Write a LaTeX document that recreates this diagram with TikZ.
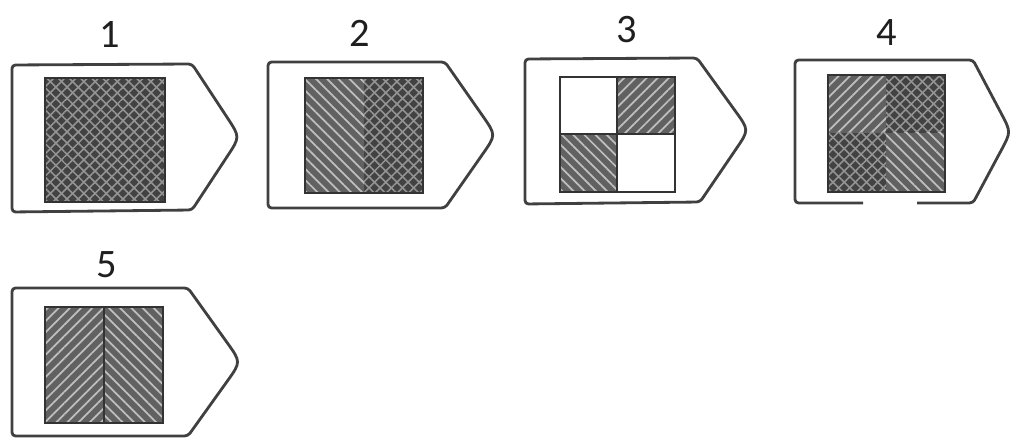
\documentclass[tikz,border=0pt]{standalone}
\usepackage{fontspec}
\setmainfont{Carlito}
\usetikzlibrary{calc,patterns.meta}

\begin{document}
\begin{tikzpicture}[x=0.02cm,y=-0.02cm,font=\fontsize{23}{26}\selectfont]
\tikzstyle{lbl}=[inner sep=0pt,text=black!88]
\tikzstyle{tagline}=[draw=black!75,line width=1.6pt,rounded corners=2pt]
\tikzstyle{sq}=[draw=black!80,line width=0.6pt]
\tikzstyle{cross}=[fill=black!74,postaction={pattern={Lines[angle=45,distance=4.5pt,line width=0.9pt]},pattern color=black!42},postaction={pattern={Lines[angle=-45,distance=4.5pt,line width=0.9pt]},pattern color=black!42}]
\tikzstyle{hatchr}=[fill=black!62,postaction={pattern={Lines[angle=45,distance=4.5pt,line width=1pt]},pattern color=black!25}]
\tikzstyle{hatchl}=[fill=black!62,postaction={pattern={Lines[angle=-45,distance=4.5pt,line width=1pt]},pattern color=black!25}]
\useasboundingbox (0,0) rectangle (1010,445);
% labels
\node[lbl] (n1) at (110,35) {1};
\node[lbl] (n2) at (360,33) {2};
\node[lbl] (n3) at (627,30) {3};
\node[lbl] (n4) at (887,33) {4};
\node[lbl] (n5) at (107,265) {5};
% tag 1
\draw[tagline] (12,65) -- (192,64) -- ($(192,64)!.7!(240,137)$) .. controls (240,137) .. ($(192,210)!.7!(240,137)$) -- (192,210) -- (12,212) -- cycle;
\path[cross] (45,78) rectangle (165,202);
\draw[sq] (45,78) rectangle (165,202);
% tag 2
\draw[tagline] (268,62) -- (445,62) -- ($(445,62)!.7!(496,135)$) .. controls (496,135) .. ($(445,208)!.7!(496,135)$) -- (445,208) -- (268,208) -- cycle;
\path[hatchl] (305,78) rectangle (364,193);
\path[cross] (364,78) rectangle (423,193);
\draw[sq] (305,78) rectangle (423,193);
% tag 3
\draw[tagline] (525,59) -- (697,58) -- ($(697,58)!.7!(749,130)$) .. controls (749,130) .. ($(700,202)!.7!(749,130)$) -- (700,202) -- (525,204) -- cycle;
\path[hatchr] (617,77) rectangle (675,134);
\path[hatchl] (560,134) rectangle (617,192);
\draw[sq] (560,77) rectangle (675,192) (617,77) -- (617,192) (560,134) -- (675,134);
% tag 4, open at the bottom
\draw[tagline] (863,203) -- (795,203) -- (795,60) -- (973,60) -- ($(973,60)!.7!(1011,132)$) .. controls (1011,132) .. ($(973,203)!.7!(1011,132)$) -- (973,203) -- (917,203);
\path[hatchr] (828,75) rectangle (886,133);
\path[cross] (886,75) rectangle (945,133);
\path[cross] (828,133) rectangle (886,192);
\path[hatchl] (886,133) rectangle (945,192);
\draw[sq] (828,75) rectangle (945,192);
% tag 5
\draw[tagline] (12,288) -- (188,288) -- ($(188,288)!.7!(241,362)$) .. controls (241,362) .. ($(188,436)!.7!(241,362)$) -- (188,436) -- (12,436) -- cycle;
\path[hatchr] (45,307) rectangle (104,423);
\path[hatchl] (104,307) rectangle (163,423);
\draw[sq] (45,307) rectangle (163,423) (104,307) -- (104,423);
\end{tikzpicture}
\end{document}
